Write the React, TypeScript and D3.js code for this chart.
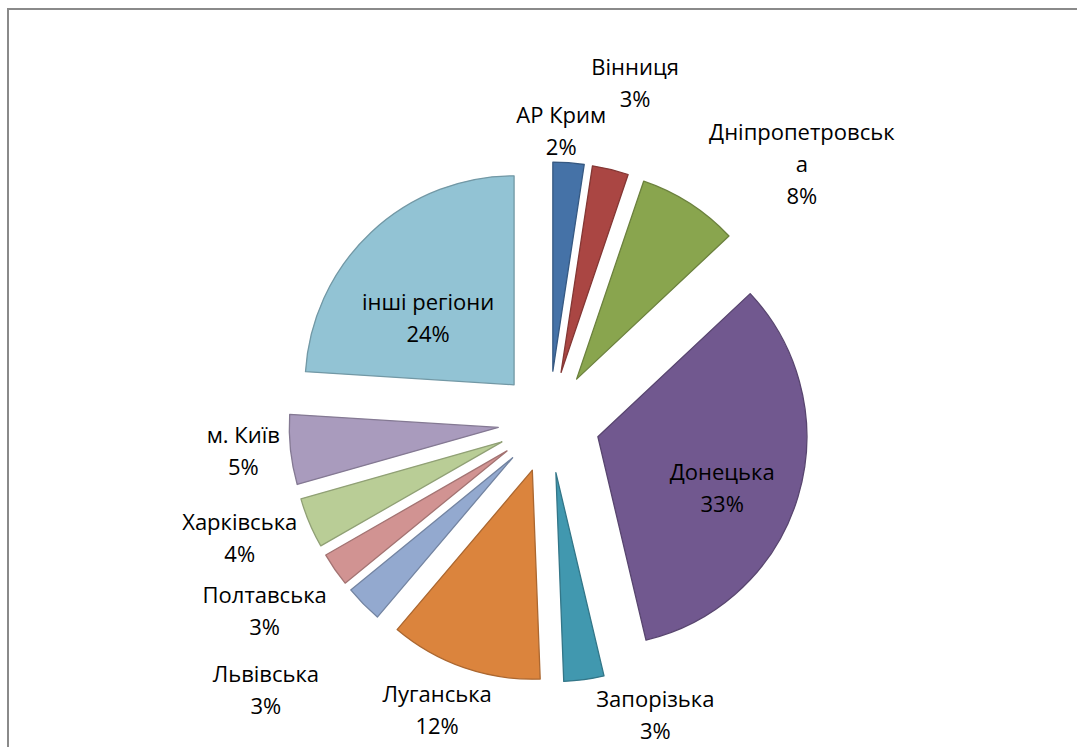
import React from 'react';
import * as d3 from 'd3';

// regions and their share of the total (percent)
const regions = [
  'АР Крим',
  'Вінниця',
  'Дніпропетровська',
  'Донецька',
  'Запорізька',
  'Луганська',
  'Львівська',
  'Полтавська',
  'Харківська',
  'м. Київ',
  'інші регіони',
];
const shares = [2.4, 2.8, 7.8, 33.3, 3.1, 11.8, 2.9, 2.6, 3.9, 5.4, 24.0];

// Excel-like palette
const sliceColors = [
  '#4572A7', '#AA4643', '#89A54E', '#71588F', '#4198AF', '#DB843D',
  '#93A9CF', '#D19392', '#B9CD96', '#A99BBD', '#92C3D4',
];

// label placement: polar (degrees clockwise from 12 o'clock, px from pie centre)
const labelAngles = [2.4, 14.2, 44.3, 110.6, 160.0, 201.3, 226.7, 236.5, 249.6, 264.8, 310.9];
const labelDists = [292, 351, 362, 185, 311, 308, 389, 341, 330, 307, 160];

const width = 1077;
const height = 747;
const cx = 549;
const cy = 422;
const radius = 209;
const explode = 51;
const lineHeight = 32;
const maxChars = 15;

interface Slice {
  name: string;
  value: number;
}

const wrap = (s: string): string[] =>
  s.length > maxChars ? [s.slice(0, maxChars), s.slice(maxChars)] : [s];

const App: React.FC = () => {
  const data: Slice[] = regions.map((name, i) => ({ name, value: shares[i] }));
  const total = d3.sum(shares);

  const pie = d3.pie<Slice>().sort(null).value(d => d.value).startAngle(0).endAngle(2 * Math.PI);
  const arcs = pie(data);
  const arc = d3.arc<d3.PieArcDatum<Slice>>().innerRadius(0).outerRadius(radius);
  const toRad = (deg: number) => (deg * Math.PI) / 180;

  return (
    <svg
      width={width}
      height={height}
      style={{ position: 'absolute', left: 0, top: 0, background: '#fff' }}
      fontFamily="'Open Sans', 'Noto Sans', sans-serif"
    >
      <rect x={8} y={9} width={width + 20} height={height + 20} fill="#fff" stroke="#8a8a8a" strokeWidth={2} />
      <g transform={`translate(${cx},${cy})`}>
        {arcs.map((a, i) => {
          const mid = (a.startAngle + a.endAngle) / 2;
          const dx = Math.sin(mid) * explode;
          const dy = -Math.cos(mid) * explode;
          const fill = sliceColors[i];
          const stroke = d3.color(fill)!.darker(0.7).formatHex();
          return (
            <path
              key={a.data.name}
              d={arc(a) || ''}
              transform={`translate(${dx},${dy})`}
              fill={fill}
              stroke={stroke}
              strokeWidth={1.3}
              strokeLinejoin="round"
            />
          );
        })}
        {arcs.map((a, i) => {
          const ang = toRad(labelAngles[i]);
          const lx = Math.sin(ang) * labelDists[i];
          const ly = -Math.cos(ang) * labelDists[i];
          const lines = [...wrap(a.data.name), `${Math.round((a.data.value / total) * 100)}%`];
          return (
            <text key={a.data.name} textAnchor="middle" fontSize={22} fill="#000">
              {lines.map((t, j) => (
                <tspan
                  key={j}
                  x={lx}
                  y={ly + (j - (lines.length - 1) / 2) * lineHeight}
                  dominantBaseline="central"
                >
                  {t}
                </tspan>
              ))}
            </text>
          );
        })}
      </g>
    </svg>
  );
};

export default App;
